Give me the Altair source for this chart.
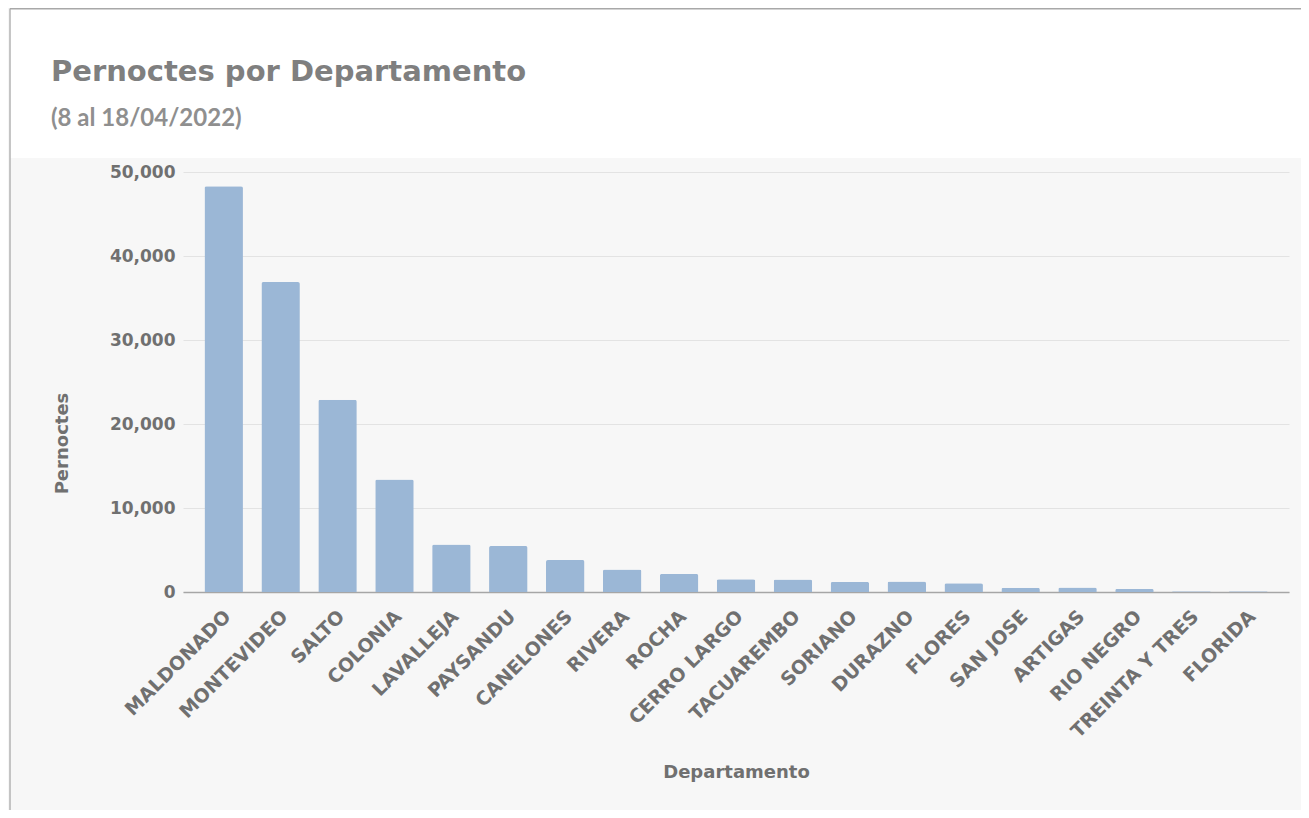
import altair as alt
import pandas as pd

departamentos = [
    "MALDONADO", "MONTEVIDEO", "SALTO", "COLONIA", "LAVALLEJA", "PAYSANDU",
    "CANELONES", "RIVERA", "ROCHA", "CERRO LARGO", "TACUAREMBO", "SORIANO",
    "DURAZNO", "FLORES", "SAN JOSE", "ARTIGAS", "RIO NEGRO", "TREINTA Y TRES",
    "FLORIDA",
]
pernoctes = [
    48300, 36900, 22900, 13400, 5640, 5480,
    3810, 2670, 2150, 1510, 1480, 1200,
    1240, 1040, 520, 550, 360, 90,
    80,
]
y_ticks = [0, 10000, 20000, 30000, 40000, 50000]

df = pd.DataFrame({"Departamento": departamentos, "Pernoctes": pernoctes})

W, H = 1106, 420
PL, PT = 175, 164
TOTAL_W, TOTAL_H = 1293, 802
PR = TOTAL_W - PL - W
PB = TOTAL_H - PT - H

FONT = "DejaVu Sans"
one = alt.Data(values=[{"k": 1}])

white_top = alt.Chart(one).mark_rect(fill="white").encode(
    x=alt.value(-PL + 2), x2=alt.value(W + PR),
    y=alt.value(-PT + 1), y2=alt.value(-14),
)
left_border = alt.Chart(one).mark_rule(color="#b3b3b3", strokeWidth=1.5).encode(
    x=alt.value(-PL + 2), y=alt.value(-PT + 0.5), y2=alt.value(H + PB),
)
top_border = alt.Chart(one).mark_rule(color="#a8a8a8", strokeWidth=1.5).encode(
    x=alt.value(-PL + 2), x2=alt.value(W + PR), y=alt.value(-PT + 0.75),
)

bars = alt.Chart(df).mark_bar(
    color="#9bb7d6", cornerRadiusTopLeft=2, cornerRadiusTopRight=2
).encode(
    x=alt.X(
        "Departamento:N",
        sort=None,
        scale=alt.Scale(paddingInner=0.324, paddingOuter=0.377),
        axis=alt.Axis(
            title="Departamento",
            labelAngle=-45,
            labelAlign="right",
            labelBaseline="middle",
            labelPadding=21,
            labelOffset=4,
            labelFont=FONT,
            labelFontSize=19,
            labelFontWeight="bold",
            labelColor="#707070",
            ticks=False,
            grid=False,
            domainColor="#a6a6a6",
            domainWidth=1.3,
            titleFont=FONT,
            titleFontSize=18,
            titleFontWeight="bold",
            titleColor="#707070",
            titleX=553,
            titleY=180,
            titleAlign="center",
            titleBaseline="middle",
            titleAnchor="start",
        ),
    ),
    y=alt.Y(
        "Pernoctes:Q",
        scale=alt.Scale(domain=[0, 50000], nice=False),
        axis=alt.Axis(
            title="Pernoctes",
            values=y_ticks,
            format=",.0f",
            labelFont=FONT,
            labelFontSize=17,
            labelFontWeight="bold",
            labelColor="#707070",
            labelPadding=8,
            ticks=False,
            domain=False,
            gridColor="#e3e3e3",
            gridWidth=1,
            titleFont=FONT,
            titleFontSize=18,
            titleFontWeight="bold",
            titleColor="#707070",
            titleX=-121,
            titleY=271,
            titleAngle=-90,
            titleAlign="center",
            titleBaseline="middle",
            titleAnchor="start",
        ),
    ),
)

chart = alt.layer(white_top, left_border, top_border, bars).properties(
    width=W,
    height=H,
    padding={"left": PL, "top": PT, "right": PR, "bottom": PB},
    autosize=alt.AutoSizeParams(type="none"),
    title=alt.TitleParams(
        text="Pernoctes por Departamento",
        subtitle="(8 al 18/04/2022)",
        anchor="start",
        frame="group",
        dx=-132,
        dy=123,
        offset=0,
        font=FONT,
        fontSize=29,
        fontWeight="bold",
        color="#7f7f7f",
        subtitleFont="Lato",
        subtitleFontSize=24,
        subtitleFontWeight="bold",
        subtitleColor="#8f8f8f",
        subtitlePadding=20,
    ),
).configure(
    background="#f7f7f7",
    font=FONT,
).configure_view(stroke=None)

chart.save("out.html", embed_options={"renderer": "svg", "actions": False})
